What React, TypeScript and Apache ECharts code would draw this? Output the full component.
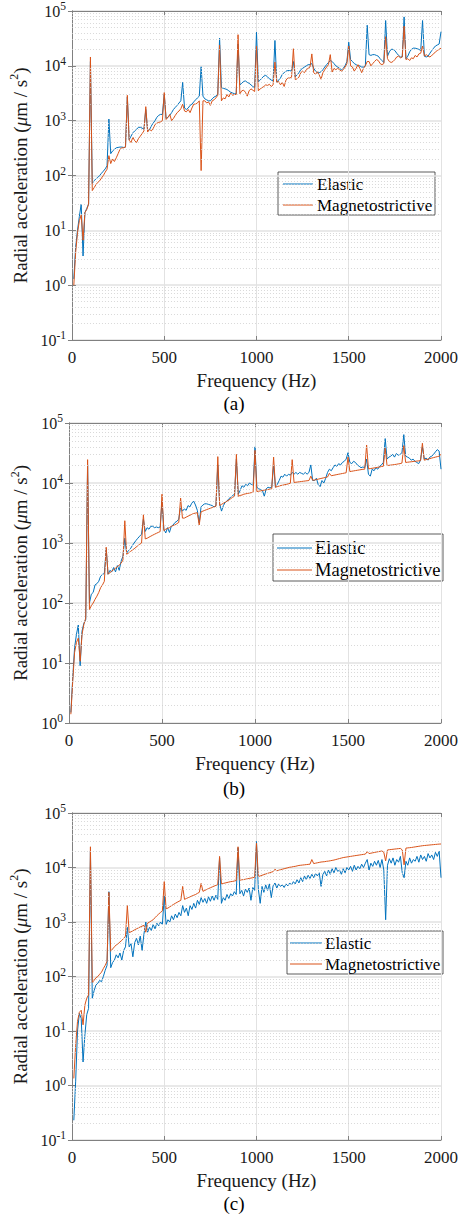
import React, { useEffect, useRef } from 'react';
import * as echarts from 'echarts';

// Frequency axis (Hz): samples every 10 Hz from 10 to 2000
const FREQ: number[] = Array.from({ length: 200 }, (_, i) => (i + 1) * 10);

// ---------- panel (a) ----------
const ELASTIC_A = [
  1.3, 5, 10, 18, 30, 3.4, 21, 25, 30, 12000,
  72, 80, 87, 92, 100, 110, 120, 132, 150, 1070,
  250, 280, 300, 320, 325, 330, 330, 325, 330, 2700,
  450, 520, 600, 650, 700, 750, 760, 730, 700, 1600,
  660, 680, 800, 900, 1000, 1150, 1250, 1300, 1300, 3000,
  1100, 1150, 1250, 1400, 1600, 1750, 1900, 2100, 2300, 5000,
  1700, 1600, 1700, 1900, 2000, 2200, 2400, 2600, 2800, 9600,
  2800, 2500, 2400, 2300, 2300, 2500, 2700, 2800, 3000, 32000,
  4000, 3900, 3800, 3700, 3500, 3300, 3200, 3100, 3100, 25000,
  4500, 4800, 5200, 5300, 5000, 4800, 4500, 4200, 4000, 41000,
  5100, 5500, 6000, 6500, 6700, 6300, 5800, 5500, 5300, 29000,
  5000, 5500, 6000, 7000, 7500, 8000, 8200, 8200, 8000, 12000,
  6300, 6800, 7500, 8500, 9000, 9500, 10000, 10500, 10500, 11000,
  9000, 8000, 7500, 7500, 7800, 8500, 9500, 10500, 11500, 12500,
  12000, 11000, 10000, 9500, 9000, 8500, 9000, 10000, 12000, 27000,
  13000, 12000, 11000, 10500, 10000, 10000, 9500, 9500, 10000, 55000,
  16000, 15500, 16000, 16000, 15500, 15000, 13500, 12500, 11500, 67000,
  15000, 18000, 20000, 20000, 19000, 17000, 15500, 14500, 14500, 78000,
  13500, 15000, 18000, 20000, 21000, 21000, 20500, 20000, 19000, 67000,
  15000, 14500, 15000, 17000, 19000, 21000, 23000, 24000, 25000, 42000,
];
const MAGNETO_A = [
  1.0, 4, 9, 15, 19, 6.6, 21, 24, 30, 14500,
  53, 60, 68, 75, 80, 90, 100, 115, 130, 230,
  165, 200, 180, 210, 250, 300, 320, 320, 330, 2900,
  440, 400, 500, 430, 400, 470, 520, 580, 650, 1800,
  620, 700, 650, 720, 850, 900, 930, 950, 1000, 3250,
  1050, 1150, 1300, 1000, 1100, 1250, 1400, 1500, 1650, 2000,
  1500, 1450, 1600, 1400, 1700, 2000, 2000, 2100, 2300, 123,
  2300, 2300, 2100, 2200, 1900, 2300, 2400, 2600, 2900, 24000,
  2300, 2600, 2500, 3000, 2700, 3200, 2900, 3000, 3000, 37000,
  3100, 3500, 3600, 3300, 2800, 3500, 3800, 3600, 3400, 23000,
  3500, 3800, 4000, 4200, 4500, 4400, 4600, 4200, 4500, 11700,
  5000, 5200, 4500, 5000, 4200, 5500, 6000, 6000, 6200, 20500,
  5600, 5800, 6200, 7500, 8000, 7500, 8500, 9000, 9500, 16500,
  7500, 7000, 7800, 6800, 5700, 7500, 8500, 9500, 10500, 16000,
  7700, 9000, 8500, 9000, 8500, 8000, 8500, 9500, 11000, 23000,
  10000, 9500, 8000, 9000, 10500, 9000, 7500, 9000, 10000, 12000,
  12000, 10000, 11000, 12000, 13000, 12500, 11000, 10500, 11000, 34000,
  13500, 12000, 11500, 12000, 13000, 14500, 15000, 14000, 14500, 53000,
  13000, 13500, 12500, 14000, 13500, 15500, 14500, 16500, 17000, 23000,
  15000, 16000, 15000, 14500, 15500, 16500, 18000, 19000, 20000, 21000,
];

// ---------- panel (b) ----------
const ELASTIC_B = [
  1.5, 5.6, 18, 30, 43, 9, 34, 46, 53, 20000,
  100, 140, 150, 200, 210, 230, 280, 300, 310, 800,
  300, 350, 330, 390, 330, 420, 350, 500, 600, 1200,
  680, 750, 800, 900, 1000, 1100, 1200, 1300, 1400, 2500,
  1560, 1800, 1700, 1900, 1900, 1800, 1850, 1800, 1850, 5000,
  1700, 1470, 1800, 1500, 1900, 2000, 2200, 2300, 2500, 4000,
  3400, 3700, 3500, 4200, 4000, 4600, 5000, 4300, 3500, 2150,
  4000, 4300, 4500, 4500, 4400, 4300, 4200, 4000, 4200, 20000,
  4500, 3400, 4200, 4800, 5000, 5500, 5800, 6200, 6500, 25000,
  6500, 7500, 9000, 8500, 9500, 9000, 10000, 9500, 9000, 40000,
  8500, 8000, 7800, 7500, 6000, 8000, 8500, 8300, 8500, 20000,
  8500, 9500, 11000, 13000, 12500, 14000, 13000, 14000, 13500, 15000,
  14000, 15000, 14000, 15000, 14500, 14000, 15000, 14000, 15000, 20000,
  11000, 11000, 12000, 9400, 8700, 11000, 10000, 12000, 15000, 17000,
  16000, 18000, 20000, 19000, 21000, 20000, 22000, 23000, 25000, 32000,
  22000, 21000, 23000, 22000, 20000, 19000, 18000, 18500, 18000, 25000,
  14000, 13000, 17000, 16000, 18000, 17000, 19000, 20000, 22000, 55000,
  25000, 27000, 28000, 30000, 27000, 31000, 29000, 30000, 32000, 64000,
  28000, 27000, 26000, 24000, 25000, 23000, 22000, 21000, 24000, 40000,
  25000, 26000, 24000, 27000, 28000, 30000, 33000, 36000, 34000, 17000,
];
const MAGNETO_B = [
  1.4, 5, 15, 22, 26, 10.7, 30, 44, 56, 24500,
  78, 90, 100, 115, 130, 150, 180, 200, 230, 850,
  300, 320, 340, 360, 380, 400, 430, 460, 520, 2350,
  650, 680, 720, 760, 800, 850, 900, 950, 1000, 2950,
  1170, 1200, 1250, 1300, 1350, 1400, 1450, 1500, 1550, 6500,
  1600, 1700, 1750, 1800, 1900, 1950, 2000, 2100, 2200, 5600,
  2600, 2600, 2700, 2800, 2900, 3000, 3100, 3150, 3200, 2000,
  3300, 3400, 3500, 3600, 3700, 3800, 3900, 4000, 4100, 27500,
  4200, 4400, 4600, 4800, 5000, 5200, 5500, 5800, 6000, 30000,
  6000, 6200, 6300, 6500, 6600, 6700, 6800, 6900, 7000, 35000,
  7200, 7300, 7400, 7500, 7600, 7700, 7800, 7900, 8000, 27000,
  8500, 8700, 8900, 9100, 9200, 9400, 9500, 9700, 9900, 24500,
  10200, 10300, 10400, 10500, 10600, 10700, 10800, 10900, 11000, 13000,
  11100, 11200, 11400, 11600, 11800, 12000, 12200, 12400, 12600, 14500,
  13200, 13400, 13600, 13800, 14000, 14200, 14400, 14600, 14800, 27000,
  15500, 15700, 15900, 16100, 16300, 16500, 16700, 16900, 17000, 43000,
  17200, 17400, 17600, 17800, 18000, 18300, 18500, 18800, 19000, 38000,
  19500, 19700, 19900, 20100, 20300, 20500, 20800, 21000, 21500, 42000,
  22000, 22200, 22400, 22600, 22800, 23000, 23200, 23400, 23600, 46000,
  24000, 24500, 25000, 25500, 26000, 26500, 27000, 27500, 28000, 30000,
];

// ---------- panel (c) ----------
const ELASTIC_C = [
  0.23, 1.2, 10, 21, 17, 2.7, 8.5, 20, 26, 20000,
  40, 55, 70, 75, 85, 80, 100, 130, 160, 3600,
  145, 180, 200, 250, 220, 270, 200, 300, 350, 800,
  350, 400, 230, 420, 500, 380, 550, 300, 600, 1000,
  650, 800, 700, 900, 750, 950, 850, 1000, 900, 3000,
  900, 1100, 1000, 1300, 1100, 1400, 1200, 1500, 1300, 2000,
  1500, 1800, 1300, 2000, 1700, 2200, 1800, 2500, 2100, 2800,
  2300, 2700, 2200, 2900, 2400, 3000, 2500, 3100, 2600, 15000,
  2200, 2800, 2500, 3200, 2700, 3300, 3000, 3600, 3200, 23000,
  3300, 3800, 3000, 4000, 3500, 4200, 2500, 4300, 3800, 30000,
  4000, 2200, 4500, 3500, 4800, 3800, 5000, 2800, 4600, 5200,
  4200, 5000, 4500, 4800, 4300, 5000, 4600, 5200, 4800, 5500,
  5000, 6000, 5200, 6500, 5500, 7000, 6000, 7200, 6300, 7500,
  6500, 7800, 7000, 8000, 4500, 7500, 8500, 7000, 9000, 7500,
  9500, 8000, 10000, 8500, 9000, 7500, 9500, 8000, 10000, 9000,
  10500, 8500, 11000, 9000, 10500, 9500, 11500, 10000, 12000, 14000,
  9000, 12000, 10500, 13000, 11000, 13500, 10000, 14000, 9000, 1100,
  11000, 14500, 12000, 15000, 11000, 14000, 12500, 16000, 8000, 6500,
  13000, 11000, 15000, 12000, 14000, 13000, 16000, 12500, 17000, 14000,
  16000, 13000, 18000, 15000, 17000, 14000, 19000, 16000, 20000, 6500,
];
const MAGNETO_C = [
  1.35, 5.5, 15, 22, 24, 13, 30, 40, 46, 24000,
  78, 85, 95, 100, 110, 120, 140, 160, 190, 3500,
  290, 320, 350, 380, 400, 430, 460, 500, 550, 2000,
  640, 660, 690, 720, 750, 780, 810, 840, 870, 650,
  950, 1000, 1050, 1100, 1200, 1300, 1400, 1500, 1600, 5500,
  1750, 1800, 1900, 2000, 2100, 2200, 2300, 2400, 2500, 4500,
  2600, 2700, 2800, 2900, 3000, 3100, 3200, 3350, 3500, 5100,
  3650, 3800, 3950, 4100, 4250, 4400, 4550, 4700, 4850, 16000,
  5000, 5100, 5200, 5300, 5400, 5500, 5550, 5650, 5750, 24000,
  5850, 5950, 6000, 6100, 6200, 6300, 6400, 6500, 6650, 28000,
  6800, 7000, 7200, 7400, 7600, 7800, 8000, 8200, 8400, 9300,
  8700, 8900, 9100, 9300, 9500, 9700, 9900, 10100, 10200, 10400,
  10500, 10700, 10900, 11000, 11100, 11200, 11300, 11400, 11500, 14000,
  11800, 12000, 12200, 12400, 12600, 12700, 12800, 13000, 13100, 13300,
  13500, 13700, 14000, 14300, 14600, 14900, 15200, 15400, 15600, 15800,
  16000, 16200, 16400, 16600, 16800, 17000, 17200, 17400, 17600, 19500,
  18000, 18300, 18600, 18900, 19200, 19500, 19800, 20100, 19000, 13200,
  21000, 21200, 21400, 21600, 21800, 22000, 22200, 22400, 21000, 11200,
  22700, 22900, 23100, 23300, 23600, 23900, 24200, 24500, 24800, 25100,
  25300, 25500, 25700, 25900, 26100, 26300, 26500, 26700, 26900, 27000,
];

const SERIES_NAMES = ['Elastic', 'Magnetostrictive'];
const X_TICKS = [0, 500, 1000, 1500, 2000];
const MINOR_FACTORS = [2, 3, 4, 5, 6, 7, 8, 9];
const CAPTIONS = ['(a)', '(b)', '(c)'];

const BLUE = '#0072BD';
const ORANGE = '#D95319';
const FONT = 'Liberation Serif';
const TEXT = '#1a1a1a';
const FRAME = '#808080';

const PANELS = [
  {
    grid: { left: 70, top: 11, width: 373, height: 329 }, yMinExp: -1,
    legend: { x: 278, y: 172, w: 157, h: 43, lineX0: 283, lineX1: 313, textX: 317, rows: [184, 205], fontSize: 17 },
    caption: { x: 234, y: 403 }, elastic: ELASTIC_A, magneto: MAGNETO_A,
  },
  {
    grid: { left: 69, top: 423, width: 374, height: 300 }, yMinExp: 0,
    legend: { x: 273, y: 534, w: 170, h: 47, lineX0: 277, lineX1: 312, textX: 315, rows: [548, 570], fontSize: 18.5 },
    caption: { x: 234, y: 788 }, elastic: ELASTIC_B, magneto: MAGNETO_B,
  },
  {
    grid: { left: 70, top: 813, width: 373, height: 327 }, yMinExp: -1,
    legend: { x: 287, y: 931, w: 156, h: 43, lineX0: 290, lineX1: 322, textX: 325, rows: [943, 964], fontSize: 17 },
    caption: { x: 234, y: 1203 }, elastic: ELASTIC_C, magneto: MAGNETO_C,
  },
];

function buildOption() {
  const grids: any[] = [];
  const xAxes: any[] = [];
  const yAxes: any[] = [];
  const series: any[] = [];
  const graphics: any[] = [];

  PANELS.forEach((p, g) => {
    grids.push({ ...p.grid, containLabel: false });
    const yMin = Math.pow(10, p.yMinExp);
    xAxes.push({
      gridIndex: g, type: 'value', min: X_TICKS[0], max: X_TICKS[X_TICKS.length - 1], interval: 500,
      axisLine: { show: true, onZero: false, lineStyle: { color: FRAME, width: 1 } },
      axisTick: { show: true, inside: true, length: 4, lineStyle: { color: FRAME } },
      axisLabel: {
        margin: 7, formatter: (v: number) => `{t|${v}}`,
        rich: { t: { fontFamily: FONT, fontSize: 17, color: TEXT, lineHeight: 20 } },
      },
      splitLine: { show: true, lineStyle: { color: '#e2e2e2', width: 1 } },
      name: '{t|Frequency (Hz)}', nameLocation: 'middle', nameGap: 29,
      nameTextStyle: { rich: { t: { fontFamily: FONT, fontSize: 19, color: TEXT, lineHeight: 22 } } },
    });
    yAxes.push({
      gridIndex: g, type: 'log', logBase: 10, min: yMin, max: 1e5,
      axisLine: { show: true, lineStyle: { color: FRAME, width: 1 } },
      axisTick: { show: true, inside: true, length: 4, lineStyle: { color: FRAME } },
      axisLabel: {
        margin: 6,
        formatter: (v: number) => `{b|10}{e|${Math.round(Math.log10(v))}}`,
        rich: {
          b: { fontFamily: FONT, fontSize: 16, color: TEXT, lineHeight: 22 },
          e: { fontFamily: FONT, fontSize: 11.5, color: TEXT, lineHeight: 9, verticalAlign: 'top' },
        },
      },
      splitLine: { show: true, lineStyle: { color: '#e2e2e2', width: 1.5 } },
      name: '{a|Radial acceleration (}{i|μ}{a|m / s}{s|2}{a|)}',
      nameLocation: 'middle', nameGap: 35,
      nameTextStyle: {
        rich: {
          a: { fontFamily: FONT, fontSize: 19, color: TEXT, lineHeight: 24 },
          i: { fontFamily: FONT, fontSize: 19, color: TEXT, fontStyle: 'italic', lineHeight: 24 },
          s: { fontFamily: FONT, fontSize: 12, color: TEXT, lineHeight: 10, verticalAlign: 'top' },
        },
      },
    });
  });

  PANELS.forEach((p, g) => {
    xAxes.push({
      gridIndex: g, type: 'value', position: 'top', min: 0, max: 2000, interval: 500,
      axisLine: { show: true, onZero: false, lineStyle: { color: FRAME, width: 1 } },
      axisTick: { show: true, inside: true, length: 4, lineStyle: { color: FRAME } },
      axisLabel: { show: false }, splitLine: { show: false },
    });
    yAxes.push({
      gridIndex: g, type: 'log', logBase: 10, position: 'right', min: Math.pow(10, p.yMinExp), max: 1e5,
      axisLine: { show: true, lineStyle: { color: FRAME, width: 1 } },
      axisTick: { show: true, inside: true, length: 4, lineStyle: { color: FRAME } },
      axisLabel: { show: false }, splitLine: { show: false },
    });
  });

  PANELS.forEach((p, g) => {
    const minorValues: number[] = [];
    for (let e = p.yMinExp; e < 5; e++) {
      MINOR_FACTORS.forEach((f) => minorValues.push(f * Math.pow(10, e)));
    }
    series.push({
      type: 'line', xAxisIndex: g, yAxisIndex: g, data: [], silent: true, symbol: 'none',
      markLine: {
        silent: true, symbol: 'none', label: { show: false }, animation: false,
        lineStyle: { color: '#cfcfcf', type: [1, 2], width: 0.8 },
        emphasis: { disabled: true },
        data: minorValues.map((v) => ({ yAxis: v })),
      },
    });
    series.push({
      type: 'line', name: SERIES_NAMES[0], xAxisIndex: g, yAxisIndex: g,
      data: FREQ.map((f, i) => [f, p.elastic[i]]),
      symbol: 'none', showSymbol: false,
      lineStyle: { color: BLUE, width: 1 }, itemStyle: { color: BLUE },
    });
    series.push({
      type: 'line', name: SERIES_NAMES[1], xAxisIndex: g, yAxisIndex: g,
      data: FREQ.map((f, i) => [f, p.magneto[i]]),
      symbol: 'none', showSymbol: false,
      lineStyle: { color: ORANGE, width: 1 }, itemStyle: { color: ORANGE },
    });

    // legend box drawn as graphic
    const L = p.legend;
    const colors = [BLUE, ORANGE];
    graphics.push({
      type: 'group', z: 100,
      children: [
        { type: 'rect', shape: { x: L.x, y: L.y, width: L.w, height: L.h }, style: { fill: '#ffffff', stroke: '#333333', lineWidth: 0.8 } },
        ...SERIES_NAMES.flatMap((name, k) => [
          { type: 'line', shape: { x1: L.lineX0, y1: L.rows[k], x2: L.lineX1, y2: L.rows[k] }, style: { stroke: colors[k], lineWidth: 1 } },
          { type: 'text', x: L.textX, y: L.rows[k], style: { text: name, fontFamily: FONT, fontSize: L.fontSize, fill: '#000', align: 'left', verticalAlign: 'middle' } },
        ]),
      ],
    });
    graphics.push({
      type: 'text', x: p.caption.x, y: p.caption.y,
      style: { text: CAPTIONS[g], fontFamily: FONT, fontSize: 19, fill: '#000', align: 'center', verticalAlign: 'middle' },
    });
  });

  return {
    animation: false,
    backgroundColor: '#ffffff',
    grid: grids, xAxis: xAxes, yAxis: yAxes, series, graphic: graphics,
  };
}

export default function App() {
  const ref = useRef<HTMLDivElement>(null);
  useEffect(() => {
    if (!ref.current) return;
    const chart = echarts.init(ref.current, undefined, { renderer: 'svg' });
    chart.setOption(buildOption() as any);
    return () => chart.dispose();
  }, []);
  return <div ref={ref} style={{ position: 'absolute', left: 0, top: 0, width: 461, height: 1216, background: '#fff' }} />;
}
